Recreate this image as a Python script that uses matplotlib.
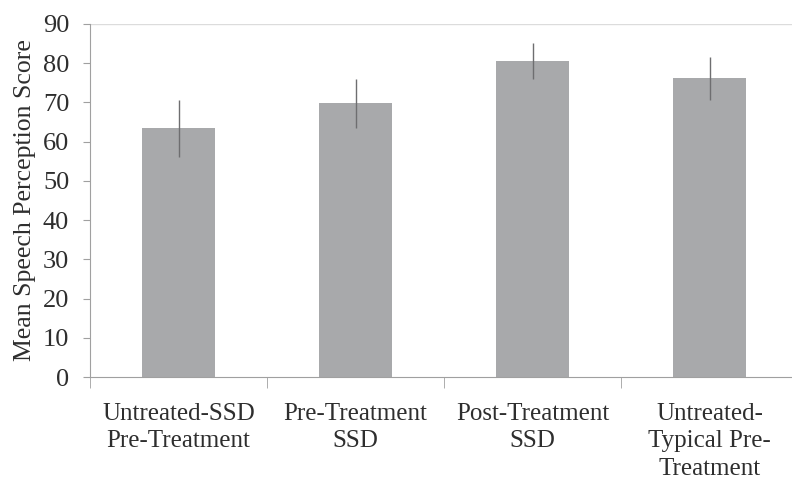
import numpy as np
import matplotlib.pyplot as plt

categories = ['Untreated-SSD\nPre-Treatment', 'Pre-Treatment\nSSD',
              'Post-Treatment\nSSD', 'Untreated-\nTypical Pre-\nTreatment']
means = [63.5, 69.8, 80.6, 76.2]
err_low = [56.2, 63.5, 76.0, 70.6]
err_high = [70.5, 76.0, 85.2, 81.6]

plt.rcParams['font.family'] = ['Liberation Serif', 'DejaVu Serif']

fig = plt.figure(figsize=(7.92, 4.79), dpi=100)
ax = fig.add_axes([90/792, 1-377/479, 708/792, 353/479])

x = np.arange(len(categories))
lo = np.array(means) - np.array(err_low)
hi = np.array(err_high) - np.array(means)
ax.bar(x, means, width=0.41, color='#a8a9ab', zorder=2)
ax.errorbar(x, means, yerr=[lo, hi], fmt='none', ecolor='#6e6e70',
            elinewidth=1, capsize=0, zorder=3)

ax.set_xlim(-0.5, 3.5)
ax.set_ylim(0, 90)
ax.set_yticks(range(0, 91, 10))
ax.axhline(90, color='#dcdcdc', lw=1, zorder=1)

for s in ['top', 'right']:
    ax.spines[s].set_visible(False)
for s in ['left', 'bottom']:
    ax.spines[s].set_color('#a0a0a0')

ax.set_xticks(x)
ax.set_xticklabels(categories, fontsize=18, color='#2e2e2e', linespacing=1.3)
ax.set_xticks([-0.5, 0.5, 1.5, 2.5], minor=True)
ax.tick_params(axis='x', which='major', length=0, pad=19)
ax.tick_params(axis='x', which='minor', length=8, color='#a0a0a0')
ax.tick_params(axis='y', length=5, color='#a0a0a0', labelsize=19,
               labelcolor='#2e2e2e', pad=10)
ax.set_ylabel('Mean Speech Perception Score', fontsize=18.5, color='#2e2e2e',
              labelpad=5)

plt.savefig('out.png', dpi=100)
